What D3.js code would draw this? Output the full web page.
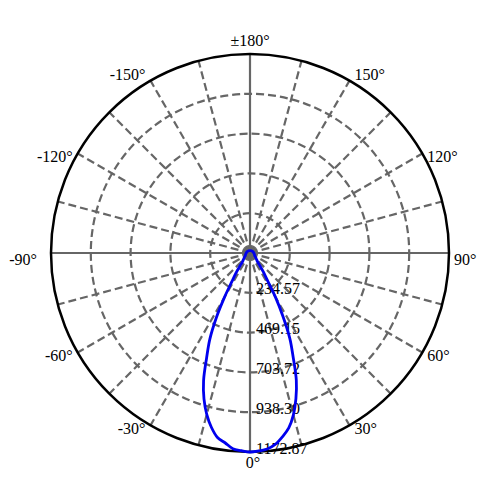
<!DOCTYPE html>
<html>
<head>
<meta charset="utf-8">
<script src="https://cdn.jsdelivr.net/npm/d3@7"></script>
<style>
  body { margin: 0; background: #fff; }
</style>
</head>
<body>
<svg id="polar" width="500" height="491"></svg>
<script>
// luminous intensity (cd) vs angle (deg), 0 = straight down
const angles = [-180, -165, -150, -135, -120, -105, -90, -80, -70, -60, -55, -50, -45, -40,
  -37.5, -35, -32.5, -30, -27.5, -25, -22.5, -20, -17.5, -15, -12.5, -10, -7.5, -5, -2.5,
  0, 2.5, 5, 7.5, 10, 12.5, 15, 17.5, 20, 22.5, 25, 27.5, 30, 32.5, 35, 37.5,
  40, 45, 50, 55, 60, 70, 80, 90, 105, 120, 135, 150, 165, 180];
const intensity = [14, 14, 15, 16, 18, 20, 22, 25, 28, 32, 38, 45, 55, 72,
  100, 145, 195, 300, 430, 560, 668, 800, 902, 985, 1052, 1104, 1128, 1158, 1166,
  1172.87, 1168, 1160, 1138, 1100, 1056, 988, 900, 798, 665, 555, 420, 300, 190, 140, 100,
  72, 55, 45, 38, 32, 28, 25, 22, 20, 18, 16, 15, 14, 14];

const ringValues = [234.57, 469.15, 703.72, 938.30, 1172.87];
const gridAngles = d3.range(-165, 181, 15);
const labelAngles = [0, 30, 60, 90, 120, 150, 180, -150, -120, -90, -60, -30];

const svg = d3.select("#polar");
const cx = 250, cy = 253, R = 199;
const font = "'Liberation Serif', 'Times New Roman', serif";

const r = d3.scaleLinear().domain([0, 1172.87]).range([0, R]);
const rad = d => d * Math.PI / 180;

const g = svg.append("g").attr("transform", `translate(${cx},${cy})`);

// dashed rings
g.selectAll("circle.ring")
  .data(ringValues.slice(0, -1))
  .join("circle")
    .attr("class", "ring")
    .attr("r", d => r(d))
    .attr("fill", "none")
    .attr("stroke", "#666")
    .attr("stroke-width", 2.2)
    .attr("stroke-dasharray", "8,4");

// radial spokes, axes solid
g.selectAll("line.spoke")
  .data(gridAngles)
  .join("line")
    .attr("class", "spoke")
    .attr("x1", 0).attr("y1", 0)
    .attr("x2", d => R * Math.sin(rad(d)))
    .attr("y2", d => R * Math.cos(rad(d)))
    .attr("stroke", "#666")
    .attr("stroke-width", 2.2)
    .attr("stroke-dasharray", d => d % 90 === 0 ? null : "8,4");

// outer circle
g.append("circle")
  .attr("r", R)
  .attr("fill", "none")
  .attr("stroke", "#000")
  .attr("stroke-width", 2.5);

// ring value labels along 0 deg
g.selectAll("text.rv")
  .data(ringValues)
  .join("text")
    .attr("class", "rv")
    .attr("x", 6)
    .attr("y", d => r(d) - 2)
    .attr("dominant-baseline", "middle")
    .attr("font-family", font)
    .attr("font-size", 16)
    .attr("fill", "#000")
    .text(d => d.toFixed(2));

// angle labels
g.selectAll("text.ang")
  .data(labelAngles)
  .join("text")
    .attr("class", "ang")
    .attr("x", d => {
      const s = Math.sin(rad(d));
      const px = R * s;
      if (Math.abs(s) < 0.01) return px + (d === 0 ? 3 : 0);
      return s < 0 ? px - (d === -90 ? 14 : 5) : px + 5;
    })
    .attr("y", d => {
      const c = Math.cos(rad(d));
      const py = R * c;
      if (c > 0.99) return py + 12;
      if (c < -0.99) return py - 12;
      if (c < -0.8) return py - 4;
      if (Math.abs(c) < 0.01) return py + 8;
      return py + 5;
    })
    .attr("text-anchor", d => {
      const s = Math.sin(rad(d));
      return Math.abs(s) < 0.01 ? "middle" : (s < 0 ? "end" : "start");
    })
    .attr("dominant-baseline", "middle")
    .attr("font-family", font)
    .attr("font-size", 16)
    .attr("fill", "#000")
    .text(d => (Math.abs(d) === 180 ? "±180" : d) + "°");

// intensity curve
const pts = angles.map((a, i) => [Math.PI - rad(a), r(intensity[i])]);
const line = d3.lineRadial()
  .angle(d => d[0])
  .radius(d => d[1])
  .curve(d3.curveCatmullRom);

g.append("path")
  .attr("d", line(pts))
  .attr("fill", "none")
  .attr("stroke", "#0000ee")
  .attr("stroke-width", 2.8);
</script>
</body>
</html>
